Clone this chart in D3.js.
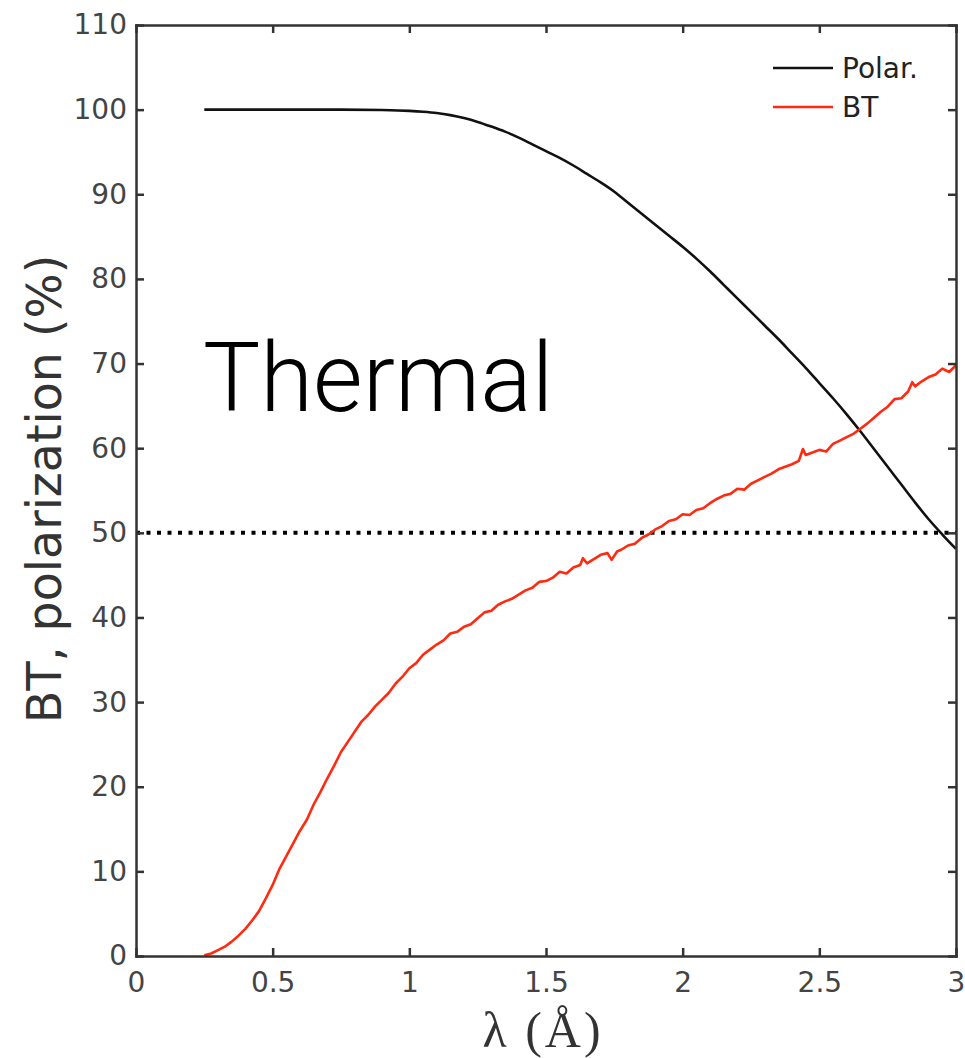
<!DOCTYPE html>
<html>
<head>
<meta charset="utf-8">
<script src="https://cdn.jsdelivr.net/npm/d3@7"></script>
<style>
  body { margin: 0; background: #fff; }
  .tick text { font-family: "DejaVu Sans", sans-serif; font-size: 28px; fill: #444; }
  .domain, .tick line { stroke: #333; stroke-width: 2.5px; }
</style>
</head>
<body>
<div id="graphic"></div>
<script>
// wavelength grid and polarization (%)
var polarLambda = [0.25, 0.5, 0.75, 0.9, 1.0, 1.05, 1.1, 1.15, 1.2, 1.25, 1.3, 1.35, 1.4, 1.45, 1.5, 1.55, 1.6, 1.65, 1.7, 1.75, 1.8, 1.85, 1.9, 1.95, 2.0, 2.05, 2.1, 2.15, 2.2, 2.25, 2.3, 2.35, 2.4, 2.45, 2.5, 2.55, 2.6, 2.65, 2.7, 2.75, 2.8, 2.85, 2.9, 2.95, 3.0];
var polarValues = [100, 100, 100, 99.95, 99.85, 99.75, 99.6, 99.35, 99.0, 98.55, 98.0, 97.4, 96.7, 95.9, 95.1, 94.3, 93.4, 92.4, 91.4, 90.3, 89.0, 87.7, 86.4, 85.1, 83.8, 82.4, 80.9, 79.3, 77.7, 76.1, 74.5, 72.9, 71.2, 69.5, 67.7, 65.9, 64.0, 62.0, 59.9, 57.8, 55.7, 53.6, 51.6, 49.8, 48.1];

// wavelength grid and beam transmission (%)
var btLambda = [0.25, 0.275, 0.3, 0.325, 0.35, 0.375, 0.4, 0.425, 0.45, 0.475, 0.5, 0.525, 0.55, 0.575, 0.6, 0.625, 0.65, 0.675, 0.7, 0.725, 0.75, 0.775, 0.8, 0.825, 0.85, 0.875, 0.9, 0.925, 0.95, 0.975, 1.0, 1.025, 1.05, 1.075, 1.1, 1.125, 1.15, 1.175, 1.2, 1.225, 1.25, 1.275, 1.3, 1.325, 1.35, 1.375, 1.4, 1.425, 1.45, 1.475, 1.5, 1.525, 1.55, 1.575, 1.6, 1.625, 1.635, 1.65, 1.675, 1.7, 1.725, 1.74, 1.76, 1.775, 1.8, 1.825, 1.85, 1.875, 1.9, 1.925, 1.95, 1.975, 2.0, 2.025, 2.05, 2.075, 2.1, 2.125, 2.15, 2.175, 2.2, 2.225, 2.25, 2.275, 2.3, 2.325, 2.35, 2.375, 2.4, 2.425, 2.44, 2.45, 2.475, 2.5, 2.525, 2.55, 2.575, 2.6, 2.625, 2.65, 2.675, 2.7, 2.725, 2.75, 2.775, 2.8, 2.825, 2.84, 2.85, 2.875, 2.9, 2.925, 2.95, 2.975, 3.0];
var btValues = [0.1, 0.3, 0.7, 1.1, 1.7, 2.4, 3.2, 4.2, 5.3, 6.8, 8.4, 10.3, 11.8, 13.3, 14.8, 16.1, 17.9, 19.4, 21.0, 22.5, 24.1, 25.3, 26.5, 27.7, 28.5, 29.5, 30.3, 31.1, 32.2, 33.0, 34.0, 34.6, 35.6, 36.2, 36.8, 37.3, 38.1, 38.3, 38.9, 39.2, 39.9, 40.6, 40.8, 41.5, 41.9, 42.2, 42.7, 43.2, 43.5, 44.2, 44.3, 44.7, 45.4, 45.2, 45.9, 46.2, 47.0, 46.4, 46.9, 47.4, 47.6, 46.8, 47.8, 48.0, 48.5, 48.7, 49.4, 49.8, 50.4, 50.8, 51.4, 51.6, 52.2, 52.1, 52.7, 52.9, 53.5, 54.0, 54.4, 54.6, 55.2, 55.1, 55.8, 56.2, 56.6, 57.0, 57.5, 57.8, 58.1, 58.5, 59.9, 59.2, 59.5, 59.8, 59.6, 60.5, 60.9, 61.3, 61.7, 62.3, 62.9, 63.6, 64.3, 64.9, 65.8, 65.9, 66.7, 67.8, 67.3, 67.9, 68.4, 68.7, 69.4, 69.0, 69.8];

var xTicks = [0, 0.5, 1, 1.5, 2, 2.5, 3];
var yTicks = [0, 10, 20, 30, 40, 50, 60, 70, 80, 90, 100, 110];
var thresholdValue = 50;
var seriesNames = ["Polar.", "BT"];
var seriesColors = ["#111", "#ff2a10"];

var width = 965;
var height = 1058;
var plotLeft = 136;
var plotRight = 956;
var plotTop = 25;
var plotBottom = 956;
var tickLen = 8;

var svg = d3.select("#graphic")
  .append("svg")
  .attr("width", width)
  .attr("height", height);

var xScale = d3.scaleLinear().domain([0, 3]).range([plotLeft, plotRight]);
var yScale = d3.scaleLinear().domain([0, 110]).range([plotBottom, plotTop]);

function zip(xs, ys) {
  return xs.map((x, i) => ({ x: x, y: ys[i] }));
}

var line = d3.line()
  .x(d => xScale(d.x))
  .y(d => yScale(d.y));

var smoothLine = d3.line()
  .curve(d3.curveMonotoneX)
  .x(d => xScale(d.x))
  .y(d => yScale(d.y));

// threshold dotted line
svg.append("line")
  .attr("x1", xScale(0))
  .attr("x2", xScale(3))
  .attr("y1", yScale(thresholdValue))
  .attr("y2", yScale(thresholdValue))
  .attr("stroke", "#000")
  .attr("stroke-width", 4)
  .attr("stroke-dasharray", "4,6.5");

svg.append("path")
  .datum(zip(polarLambda, polarValues))
  .attr("fill", "none")
  .attr("stroke", seriesColors[0])
  .attr("stroke-width", 2.6)
  .attr("d", smoothLine);

svg.append("path")
  .datum(zip(btLambda, btValues))
  .attr("fill", "none")
  .attr("stroke", seriesColors[1])
  .attr("stroke-width", 2.6)
  .attr("stroke-linejoin", "round")
  .attr("d", line);

// axes, ticks pointing inward
svg.append("g")
  .attr("transform", "translate(0," + plotBottom + ")")
  .call(d3.axisBottom(xScale).tickValues(xTicks).tickFormat(d3.format("")).tickSizeInner(-tickLen).tickSizeOuter(0).tickPadding(16));

svg.append("g")
  .attr("transform", "translate(" + plotLeft + ",0)")
  .call(d3.axisLeft(yScale).tickValues(yTicks).tickSizeInner(-tickLen).tickSizeOuter(0).tickPadding(9));

svg.append("g")
  .attr("transform", "translate(0," + plotTop + ")")
  .call(d3.axisTop(xScale).tickValues(xTicks).tickFormat("").tickSizeInner(-tickLen).tickSizeOuter(0));

svg.append("g")
  .attr("transform", "translate(" + plotRight + ",0)")
  .call(d3.axisRight(yScale).tickValues(yTicks).tickFormat("").tickSizeInner(-tickLen).tickSizeOuter(0));

svg.selectAll(".domain").attr("stroke-linecap", "square");

// axis titles
svg.append("text")
  .attr("transform", "translate(61,489) rotate(-90)")
  .attr("text-anchor", "middle")
  .attr("font-family", "DejaVu Sans, sans-serif")
  .attr("font-size", 47.5)
  .attr("fill", "#333")
  .text("BT, polarization (%)");

svg.append("text")
  .attr("x", 543)
  .attr("y", 1047)
  .attr("text-anchor", "middle")
  .attr("font-family", "Liberation Serif, serif")
  .attr("font-size", 50)
  .attr("letter-spacing", 3)
  .attr("fill", "#333")
  .text("λ (Å)");

svg.append("text")
  .attr("x", 203)
  .attr("y", 411)
  .attr("font-family", "Roboto, sans-serif")
  .attr("font-weight", 300)
  .attr("font-size", 96)
  .attr("fill", "#000")
  .text("Thermal");

// legend
var legend = svg.append("g").attr("transform", "translate(773,68)");
seriesNames.forEach((name, i) => {
  var row = legend.append("g").attr("transform", "translate(0," + (i * 39) + ")");
  row.append("line")
    .attr("x1", 0).attr("x2", 60)
    .attr("stroke", seriesColors[i])
    .attr("stroke-width", 2.6);
  row.append("text")
    .attr("x", 69)
    .attr("dy", "0.36em")
    .attr("font-family", "DejaVu Sans, sans-serif")
    .attr("font-size", 28)
    .attr("fill", "#222")
    .text(name);
});
</script>
</body>
</html>
